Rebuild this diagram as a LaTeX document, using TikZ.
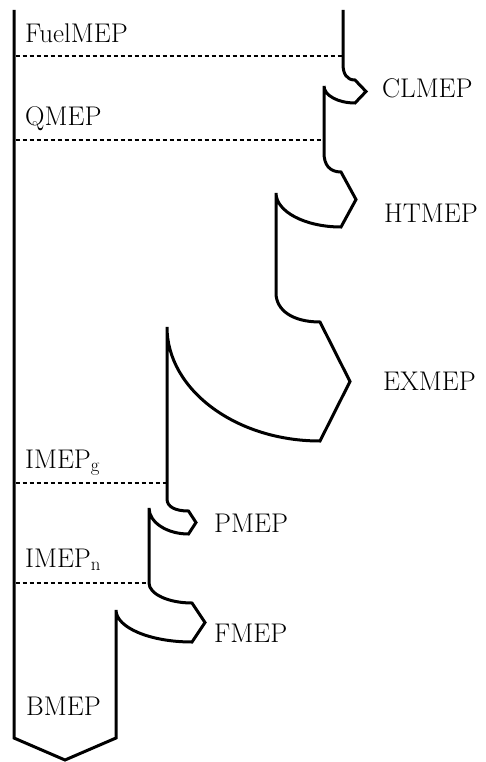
\documentclass[tikz,border=0pt]{standalone}
\begin{document}
\begin{tikzpicture}[x=1pt,y=-1pt,
  flow/.style={line width=3pt, line join=miter, miter limit=4},
  level/.style={line width=1.3pt, dash pattern=on 4pt off 3pt},
  lbl/.style={anchor=base west, inner sep=0pt, font=\fontsize{27}{32}\selectfont}]
\useasboundingbox (0,0) rectangle (486,762);

% energy flow outline, from the fuel input at the top right down to BMEP
\draw[flow]
  (343,10) -- (343,64)
  .. controls (343,73.5) and (346.4,80) .. (355,80)
  -- (366,91.5) -- (355,103)
  .. controls (338,103) and (324,95.4) .. (324,86)
  -- (324,153)
  .. controls (324,164.8) and (329.6,172) .. (341,172)
  -- (356,199.5) -- (341,227)
  .. controls (305.3,227) and (276,211.7) .. (276,193)
  -- (276,293)
  .. controls (276,310.3) and (292.8,322) .. (320,322)
  -- (350,381.5) -- (320,441)
  .. controls (235.9,441) and (167,389.7) .. (167,327)
  -- (167,499)
  .. controls (167,506.5) and (174.7,511) .. (188.5,511)
  -- (196,522.5) -- (188.5,534)
  .. controls (166.8,534) and (149,522.3) .. (149,508)
  -- (149,583)
  .. controls (149,594) and (168.4,603) .. (192,603)
  -- (205,622.5) -- (192,642)
  .. controls (150.2,642) and (116,627.6) .. (116,610)
  -- (116,738) -- (65,760) -- (14,738) -- (14,10);

% level marks
\coordinate (fuelL) at (15.5,56);  \coordinate (fuelR) at (343,56);
\coordinate (qL)    at (15.5,140); \coordinate (qR)    at (324,140);
\coordinate (igL)   at (15.5,483); \coordinate (igR)   at (167,483);
\coordinate (inL)   at (15.5,583); \coordinate (inR)   at (149,583);
\draw[level] (fuelL) -- (fuelR);
\draw[level] (qL) -- (qR);
\draw[level] (igL) -- (igR);
\draw[level] (inL) -- (inR);

% labels
\node[lbl] (fuel)  at (25,43)   {FuelMEP};
\node[lbl] (qmep)  at (25,126)  {QMEP};
\node[lbl] (clmep) at (382,98)  {CLMEP};
\node[lbl] (htmep) at (384,222) {HTMEP};
\node[lbl] (exmep) at (383,390) {EXMEP};
\node[lbl] (imepg) at (25,468)  {IMEP\textsubscript{g}};
\node[lbl] (pmep)  at (214,532) {PMEP};
\node[lbl] (imepn) at (25,567)  {IMEP\textsubscript{n}};
\node[lbl] (fmep)  at (214,642) {FMEP};
\node[lbl] (bmep)  at (26,715)  {BMEP};
\end{tikzpicture}
\end{document}
